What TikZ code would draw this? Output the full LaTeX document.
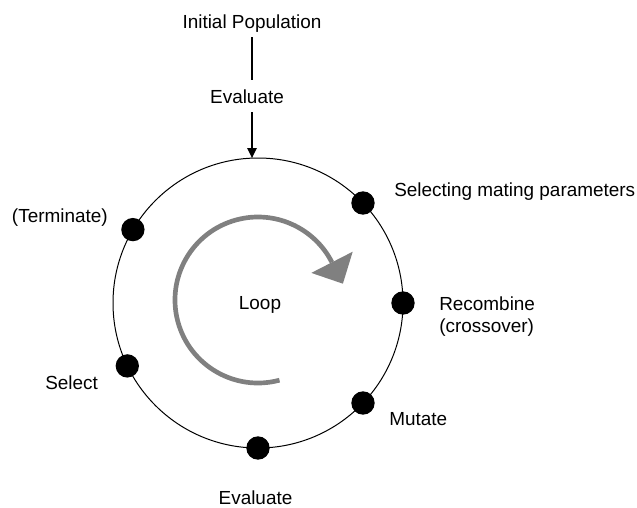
\documentclass[tikz,border=0pt]{standalone}
\usepackage{fontspec}
\setmainfont{Liberation Sans}
\usetikzlibrary{arrows.meta}
\definecolor{loopgray}{HTML}{808080}
\begin{document}
\begin{tikzpicture}[x=0.75pt,y=-0.75pt,
  lbl/.style={font=\fontsize{14.2pt}{16.5pt}\selectfont, inner sep=0pt,
              text height=10.4pt, text depth=3pt},
  lbl2/.style={font=\fontsize{14.2pt}{16.5pt}\selectfont, inner sep=0pt, align=left},
  dot/.style={circle, fill=black, minimum size=17.5pt, inner sep=0pt},
  ring/.style={draw=black, line width=0.75pt},
  conn/.style={draw=black, line width=1.2pt},
  loopline/.style={draw=loopgray, line width=3.5pt}]
\useasboundingbox (0,0) rectangle (637,508);

% main cycle
\coordinate (c) at (258,303);
\draw[ring] (c) circle[radius=145];
\coordinate (entry) at (252,158.1);

% entry labels and connectors
\node[lbl, anchor=base] (init) at (252,28.5) {Initial Population};
\node[lbl, anchor=base] (evalt) at (247,103.3) {Evaluate};
\draw[conn, shorten <=3.4pt, shorten >=7pt] (init.south) -- (init.south |- evalt.north);
\draw[conn, -{Triangle[length=7.5pt,width=7pt]}, shorten <=3.5pt]
  (evalt.south -| init.south) -- (entry);

% stages on the cycle
\node[dot] (selmat) at (363.0,203.0) {};
\node[dot] (recomb) at (403.0,303.0) {};
\node[dot] (mutate) at (363.0,403.0) {};
\node[dot] (evalbot) at (258.0,448.0) {};
\node[dot] (select) at (127.3,365.9) {};
\node[dot] (term) at (132.9,229.6) {};

\node[lbl, anchor=base west] (selmatlbl) at (394,196.7) {Selecting mating parameters};
\node[lbl2, anchor=north west] (recomblbl) at (439,296.2) {Recombine\\(crossover)};
\node[lbl, anchor=base west] (mutatelbl) at (389,425) {Mutate};
\node[lbl, anchor=base] (evalbotlbl) at (255.5,504) {Evaluate};
\node[lbl, anchor=base west] (selectlbl) at (45,389) {Select};
\node[lbl, anchor=base east] (termlbl) at (108,222.7) {(Terminate)};

% loop indicator
\coordinate (lc) at (258,300);
\draw[loopline] (lc) ++(75:83) arc[start angle=75, end angle=333, radius=83];
\fill[loopgray] (311.3,272.9) -- (352.7,251.7) -- (342.9,283.7) -- cycle;
\node[lbl, anchor=base] (looplbl) at (260,309.3) {Loop};
\end{tikzpicture}
\end{document}
